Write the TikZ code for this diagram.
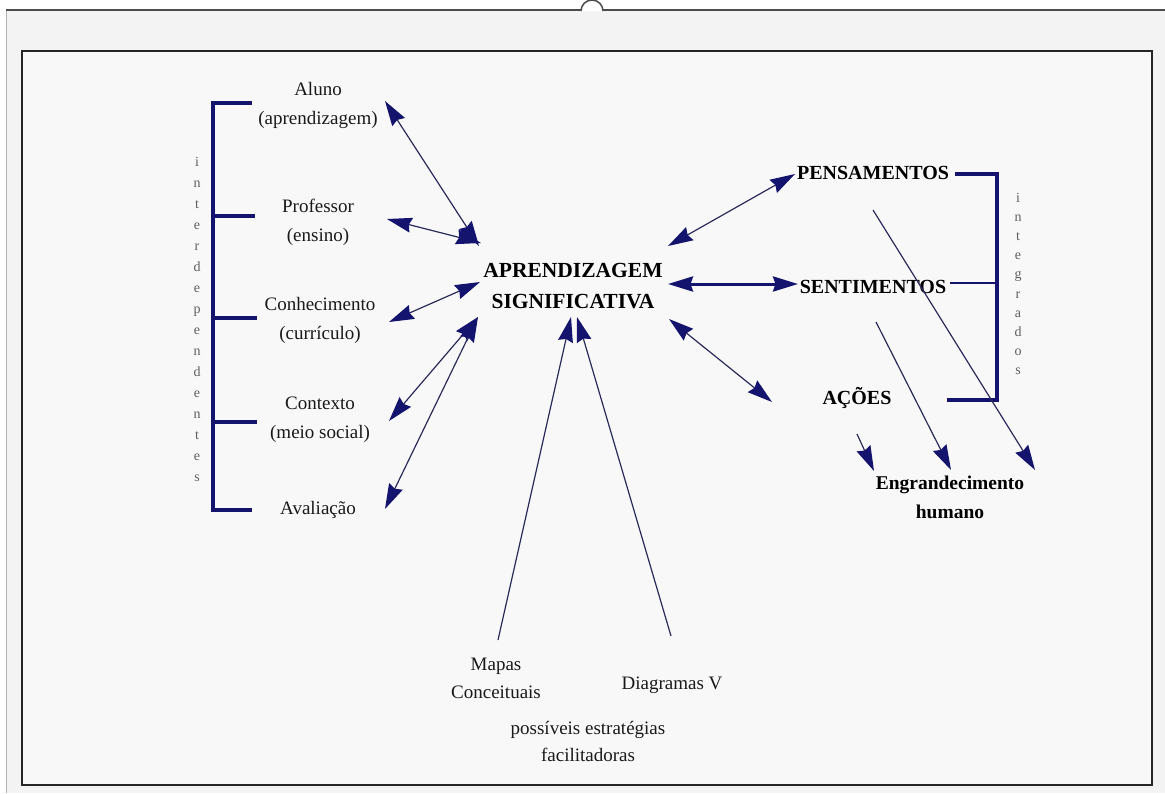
\documentclass[tikz,border=0pt]{standalone}
\usepackage{fontspec}
\setmainfont{Liberation Serif}
\usetikzlibrary{arrows.meta}
\definecolor{navy}{HTML}{14146E}
\definecolor{arrline}{HTML}{2A2A5A}
\definecolor{pagebg}{HTML}{F3F3F3}
\definecolor{innerbg}{HTML}{F8F8F8}
\definecolor{letgray}{HTML}{5E5E5E}
\begin{document}
\begin{tikzpicture}[x=1pt,y=-1pt,
  lbl/.style={align=center,inner sep=0pt,text=black!90,font=\fontsize{19}{29}\selectfont},
  blbl/.style={align=center,inner sep=0pt,text=black,font=\fontsize{20}{31}\selectfont\bfseries},
  vlet/.style={align=center,inner sep=0pt,text=letgray,font=\fontsize{14}{21}\selectfont},
  dar/.style={draw=arrline,line width=1.2pt,{Stealth[length=25pt,width=15pt,inset=2.5pt,color=navy]}-{Stealth[length=25pt,width=15pt,inset=2.5pt,color=navy]}},
  sar/.style={draw=arrline,line width=1.2pt,-{Stealth[length=25pt,width=15pt,inset=2.5pt,color=navy]}},
  brk/.style={draw=navy,line width=3.5pt}]
\useasboundingbox (0,0) rectangle (1165,793);
% page
\fill[white] (0,0) rectangle (1165,793);
\fill[pagebg] (6,10) rectangle (1165,793);
\draw[black!30,line width=1pt] (6,10) -- (6,793);
\draw[black!70,line width=2.5pt] (6,10) -- (1165,10);
\fill[white] (581,11) arc[start angle=180,end angle=360,radius=11];
\draw[black!70,line width=1.5pt] (581,11) arc[start angle=180,end angle=360,radius=11];
\draw[black!85,line width=2pt,fill=innerbg] (22,51) rectangle (1152,785);

% left labels
\node[lbl] (aluno) at (318,105) {Aluno\\(aprendizagem)};
\node[lbl] (prof) at (318,222) {Professor\\(ensino)};
\node[lbl] (conh) at (320,320) {Conhecimento\\(currículo)};
\node[lbl] (cont) at (320,420) {Contexto\\(meio social)};
\node[lbl] (aval) at (318,510) {Avaliação};
\node[vlet] (interd) at (197,319) {i\\n\\t\\e\\r\\d\\e\\p\\e\\n\\d\\e\\n\\t\\e\\s};

% left bracket
\coordinate (lb1) at (252,103);
\coordinate (lb2) at (255,216);
\coordinate (lb3) at (257,318);
\coordinate (lb4) at (257,422);
\coordinate (lb5) at (252,510);
\draw[brk] (lb1) -- (213,103) -- (213,510) -- (lb5);
\draw[brk] (213,216) -- (lb2);
\draw[brk] (213,318) -- (lb3);
\draw[brk] (213,422) -- (lb4);

% centre
\node[blbl,font=\fontsize{21.5}{31}\selectfont\bfseries] (ap) at (573,286) {APRENDIZAGEM\\SIGNIFICATIVA};

% left arrows
\coordinate (a1s) at (385,101); \coordinate (a1e) at (479,246);
\coordinate (a2s) at (387,219); \coordinate (a2e) at (481,243);
\coordinate (a3s) at (389,322); \coordinate (a3e) at (480,282);
\coordinate (a4s) at (389,421); \coordinate (a4e) at (478,317);
\coordinate (a5s) at (385,509); \coordinate (a5e) at (478,317);
\draw[dar] (a1s) -- (a1e);
\draw[dar] (a2s) -- (a2e);
\draw[dar] (a3s) -- (a3e);
\draw[dar] (a4s) -- (a4e);
\draw[dar] (a5s) -- (a5e);

% right labels
\node[blbl] (pens) at (873,173) {PENSAMENTOS};
\node[blbl] (sent) at (873,287) {SENTIMENTOS};
\node[blbl] (acoes) at (857,398) {AÇÕES};
\node[blbl,font=\fontsize{19.5}{29}\selectfont\bfseries] (eng) at (950,497) {Engrandecimento\\humano};
\node[vlet,font=\fontsize{14}{19.2}\selectfont] (integ) at (1018,284) {i\\n\\t\\e\\g\\r\\a\\d\\o\\s};

% right bracket
\coordinate (rb1) at (955,174);
\coordinate (rb2) at (950,283);
\coordinate (rb3) at (947,400);
\draw[brk] (rb1) -- (997,174) -- (997,400) -- (rb3);
\draw[draw=navy,line width=2pt] (rb2) -- (997,283);

% right arrows
\coordinate (r1s) at (668,246); \coordinate (r1e) at (795,174);
\coordinate (r2s) at (668,284); \coordinate (r2e) at (798,284);
\coordinate (r3s) at (669,319); \coordinate (r3e) at (772,402);
\draw[dar] (r1s) -- (r1e);
\draw[dar,draw=navy,line width=3pt] (r2s) -- (r2e);
\draw[dar] (r3s) -- (r3e);

\coordinate (e1s) at (873,210); \coordinate (e1e) at (1035,470);
\coordinate (e2s) at (876,322); \coordinate (e2e) at (951,470);
\coordinate (e3s) at (857,434); \coordinate (e3e) at (874,471);
\draw[sar] (e1s) -- (e1e);
\draw[sar] (e2s) -- (e2e);
\draw[sar] (e3s) -- (e3e);

% bottom
\node[lbl,font=\fontsize{19}{28}\selectfont] (mapas) at (496,678) {Mapas\\Conceituais};
\node[lbl] (diag) at (672,685) {Diagramas V};
\node[lbl,font=\fontsize{19}{27}\selectfont] (poss) at (588,741) {possíveis estratégias\\facilitadoras};
\coordinate (b1s) at (498,640); \coordinate (b1e) at (571,317);
\coordinate (b2s) at (671,636); \coordinate (b2e) at (577,317);
\draw[sar] (b1s) -- (b1e);
\draw[sar] (b2s) -- (b2e);
\end{tikzpicture}
\end{document}
